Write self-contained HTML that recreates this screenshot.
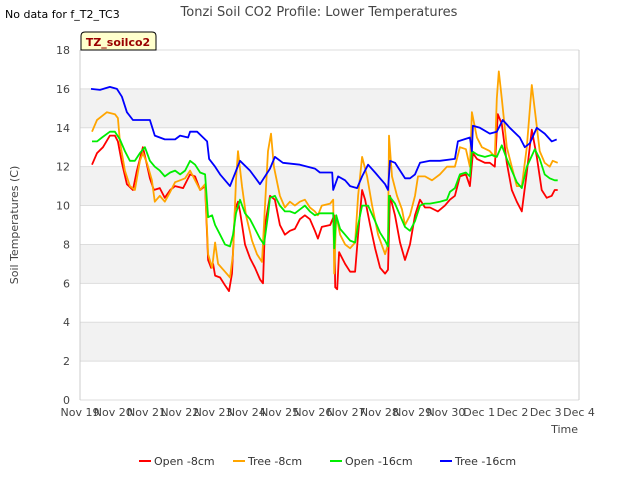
<!DOCTYPE html>
<html><head><meta charset="utf-8"><style>
body{margin:0;background:#fff;font-family:"Liberation Sans","DejaVu Sans",sans-serif}
svg text{font-family:"DejaVu Sans","Liberation Sans",sans-serif}
</style></head><body>
<svg id="c" width="640" height="480" xmlns="http://www.w3.org/2000/svg">
<rect width="640" height="480" fill="#fff"/>
<text x="5" y="18" font-size="11" fill="#000">No data for f_T2_TC3</text>
<text x="319" y="16" font-size="13" fill="#444" text-anchor="middle">Tonzi Soil CO2 Profile: Lower Temperatures</text>
<g id="plot"></g>
<g>
<path d="M81,50 V36 Q81,32 85,32 H152 Q156,32 156,36 V50 Z" fill="#ffffcc" stroke="#000" stroke-width="1"/>
<text x="118" y="46" font-size="11" font-weight="bold" fill="#990000" text-anchor="middle">TZ_soilco2</text>
</g>
<text x="18" y="225" font-size="11" fill="#444" text-anchor="middle" transform="rotate(-90 18 225)">Soil Temperatures (C)</text>
<text x="578" y="433" font-size="11" fill="#444" text-anchor="end">Time</text>
<g id="legend"></g>
</svg>
<script>
const yTicks=[0,2,4,6,8,10,12,14,16,18];
const xTickLabels=["Nov 19","Nov 20","Nov 21","Nov 22","Nov 23","Nov 24","Nov 25","Nov 26","Nov 27","Nov 28","Nov 29","Nov 30","Dec 1","Dec 2","Dec 3","Dec 4"];
const seriesNames=["Open -8cm","Tree -8cm","Open -16cm","Tree -16cm"];
const seriesColors=["#ff0000","#ffa500","#00ee00","#0000ff"];
const openT8=[0.36,0.51,0.69,0.90,1.05,1.14,1.26,1.41,1.59,1.71,1.89,2.01,2.10,2.22,2.40,2.55,2.71,2.86,3.10,3.31,3.46,3.61,3.76,3.85,3.94,4.00,4.06,4.21,4.36,4.48,4.57,4.66,4.75,4.81,4.96,5.11,5.26,5.41,5.50,5.56,5.71,5.86,6.01,6.16,6.31,6.46,6.61,6.76,6.91,7.06,7.15,7.27,7.52,7.64,7.67,7.73,7.79,7.97,8.12,8.27,8.36,8.48,8.57,8.72,8.87,9.02,9.17,9.26,9.32,9.47,9.62,9.77,9.92,10.07,10.22,10.37,10.52,10.76,10.97,11.12,11.27,11.42,11.60,11.72,11.81,11.93,12.17,12.32,12.47,12.56,12.68,12.83,12.98,13.13,13.28,13.43,13.58,13.73,13.88,14.03,14.18,14.27,14.36];
const openV8=[12.1,12.7,13.0,13.6,13.6,13.3,12.2,11.1,10.8,11.8,13.0,12.1,11.4,10.8,10.9,10.4,10.8,11.0,10.9,11.6,11.5,10.8,11.0,7.2,6.8,7.0,6.4,6.3,5.9,5.6,6.5,9.8,10.2,9.7,8.0,7.3,6.8,6.2,6.0,9.0,10.5,10.3,9.0,8.5,8.7,8.8,9.3,9.5,9.3,8.7,8.3,8.9,9.0,9.5,5.8,5.7,7.6,7.0,6.6,6.6,8.5,10.8,10.3,9.0,7.8,6.8,6.5,6.7,10.5,9.5,8.1,7.2,8.0,9.5,10.3,9.9,9.9,9.7,10.0,10.3,10.5,11.5,11.6,11.0,12.7,12.4,12.2,12.2,12.0,14.7,14.2,12.2,10.8,10.2,9.7,11.7,13.9,12.5,10.8,10.4,10.5,10.8,10.8];
const treeT8=[0.36,0.51,0.66,0.81,1.05,1.14,1.20,1.35,1.50,1.65,1.80,1.89,2.01,2.16,2.25,2.40,2.55,2.71,2.86,3.01,3.16,3.31,3.46,3.61,3.76,3.85,3.97,4.06,4.15,4.36,4.51,4.60,4.69,4.75,4.87,4.99,5.17,5.32,5.47,5.56,5.65,5.74,5.83,6.01,6.16,6.31,6.46,6.61,6.76,6.91,7.06,7.15,7.27,7.52,7.61,7.64,7.70,7.82,7.97,8.12,8.27,8.36,8.48,8.63,8.78,8.96,9.17,9.26,9.29,9.38,9.53,9.68,9.77,9.92,10.07,10.16,10.37,10.58,10.82,11.03,11.18,11.27,11.42,11.60,11.72,11.78,11.93,12.08,12.32,12.47,12.53,12.59,12.68,12.83,12.98,13.13,13.28,13.43,13.58,13.70,13.82,13.97,14.12,14.21,14.36];
const treeV8=[13.8,14.4,14.6,14.8,14.7,14.5,13.3,11.8,11.0,10.8,12.3,12.7,12.2,11.3,10.2,10.5,10.2,10.7,11.2,11.3,11.4,11.8,11.3,10.8,11.1,7.5,6.8,8.1,7.0,6.6,6.3,7.5,11.3,12.8,11.0,9.5,8.2,7.5,7.1,10.0,12.8,13.7,12.0,10.5,9.9,10.2,10.0,10.2,10.3,9.9,9.7,9.5,10.0,10.1,10.3,6.5,9.5,8.5,8.0,7.8,8.1,10.5,12.5,11.5,10.0,8.5,7.5,8.0,13.6,11.5,10.5,9.8,9.0,9.5,10.5,11.5,11.5,11.3,11.6,12.0,12.0,12.0,13.0,12.9,12.0,14.8,13.5,13.0,12.8,12.5,15.5,16.9,15.5,13.0,12.0,11.0,11.0,13.0,16.2,14.5,12.8,12.2,12.0,12.3,12.2];
const openT16=[0.36,0.51,0.66,0.90,1.05,1.20,1.35,1.50,1.65,1.80,1.95,2.10,2.25,2.40,2.55,2.71,2.86,3.01,3.16,3.31,3.46,3.61,3.76,3.85,3.97,4.06,4.21,4.36,4.51,4.60,4.69,4.81,4.96,5.11,5.26,5.41,5.53,5.65,5.71,5.86,6.01,6.16,6.31,6.46,6.61,6.76,6.91,7.06,7.21,7.52,7.61,7.64,7.70,7.82,7.97,8.12,8.27,8.36,8.48,8.66,8.87,9.02,9.17,9.26,9.29,9.47,9.62,9.77,9.92,10.07,10.22,10.37,10.52,10.82,11.03,11.12,11.27,11.42,11.60,11.72,11.78,11.96,12.17,12.38,12.53,12.68,12.83,12.98,13.13,13.28,13.43,13.67,13.82,13.97,14.12,14.27,14.36];
const openV16=[13.3,13.3,13.5,13.8,13.8,13.4,12.8,12.3,12.3,12.7,13.0,12.3,12.0,11.8,11.5,11.7,11.8,11.6,11.8,12.3,12.1,11.7,11.6,9.4,9.5,9.0,8.5,8.0,7.9,8.5,9.6,10.3,9.6,9.3,8.8,8.3,8.0,9.5,10.4,10.5,10.0,9.7,9.7,9.6,9.8,10.0,9.7,9.5,9.6,9.6,9.6,7.8,9.5,8.8,8.5,8.2,8.1,9.0,10.0,10.0,9.2,8.6,8.2,7.9,10.5,10.1,9.5,8.9,8.7,9.2,10.0,10.1,10.1,10.2,10.3,10.7,10.9,11.6,11.7,11.5,12.8,12.6,12.5,12.6,12.5,13.1,12.4,11.8,11.2,10.9,12.0,12.9,12.4,11.6,11.4,11.3,11.3];
const treeT16=[0.33,0.60,0.90,1.11,1.26,1.41,1.59,1.80,2.10,2.25,2.55,2.86,3.01,3.25,3.31,3.52,3.70,3.82,3.88,4.06,4.21,4.51,4.81,5.11,5.41,5.71,5.86,6.10,6.61,7.06,7.21,7.58,7.61,7.76,7.97,8.12,8.33,8.48,8.66,8.87,9.17,9.26,9.32,9.47,9.77,9.92,10.07,10.22,10.52,10.82,11.27,11.36,11.72,11.78,11.81,12.02,12.32,12.53,12.71,12.92,13.22,13.37,13.52,13.73,13.97,14.18,14.33];
const treeV16=[16.0,15.95,16.1,16.0,15.6,14.8,14.4,14.4,14.4,13.6,13.4,13.4,13.6,13.5,13.8,13.8,13.5,13.3,12.4,12.0,11.6,11.0,12.3,11.8,11.1,11.9,12.5,12.2,12.1,11.9,11.7,11.7,10.8,11.5,11.3,11.0,10.9,11.5,12.1,11.7,11.1,10.8,12.3,12.2,11.4,11.4,11.6,12.2,12.3,12.3,12.4,13.3,13.5,12.8,14.1,14.0,13.7,13.8,14.4,14.0,13.5,13.0,13.2,14.0,13.7,13.3,13.4];
const X0=80,X1=579,Y0=400,Y1=50;
const xs=d=>X0+d*(X1-X0)/15;
const ys=v=>Y0-v*(Y0-Y1)/18;
const NS="http://www.w3.org/2000/svg";
const plot=document.getElementById('plot');
function mk(tag,attrs,parent){const e=document.createElementNS(NS,tag);for(const k in attrs)e.setAttribute(k,attrs[k]);parent.appendChild(e);return e;}
for(let i=0;i<yTicks.length-1;i++){
  if(i%2===1){const r=mk('rect',{x:X0,y:ys(yTicks[i+1]),width:X1-X0,height:ys(yTicks[i])-ys(yTicks[i+1]),fill:'#f2f2f2'},plot);
  
  }
}
yTicks.forEach(t=>{
  const l=mk('line',{x1:X0,x2:X1,y1:ys(t),y2:ys(t),stroke:'#dddddd','stroke-width':1},plot);
  
  
  const tx=mk('text',{x:X0-10,y:ys(t)+4,'font-size':11,fill:'#444','text-anchor':'end'},plot);
  tx.textContent=t;
  
  
});
mk('line',{x1:X0,x2:X0,y1:Y1,y2:Y0,stroke:'#ccc'},plot);
mk('line',{x1:X1,x2:X1,y1:Y1,y2:Y0,stroke:'#ccc'},plot);
xTickLabels.forEach((s,i)=>{
  const tx=mk('text',{x:xs(i),y:Y0+16,'font-size':11,fill:'#444','text-anchor':'middle'},plot);
  tx.textContent=s;
  
  
});
const series=[[openT8,openV8],[treeT8,treeV8],[openT16,openV16],[treeT16,treeV16]];
series.forEach((s,k)=>{
  const pts=s[0].map((t,i)=>xs(t).toFixed(1)+','+ys(s[1][i]).toFixed(1)).join(' ');
  const p=mk('polyline',{points:pts,fill:'none',stroke:seriesColors[k],'stroke-width':1.8,'stroke-linejoin':'round'},plot);
  
  
});
const lg=document.getElementById('legend');
const lx=[139,233,330,440];
seriesNames.forEach((n,k)=>{
  const g=mk('g',{},lg);
  
  
  mk('line',{x1:lx[k],x2:lx[k]+12,y1:461,y2:461,stroke:seriesColors[k],'stroke-width':2},g);
  const t=mk('text',{x:lx[k]+15,y:465,'font-size':11,fill:'#333'},g);
  t.textContent=n;
});
</script>
</body></html>
